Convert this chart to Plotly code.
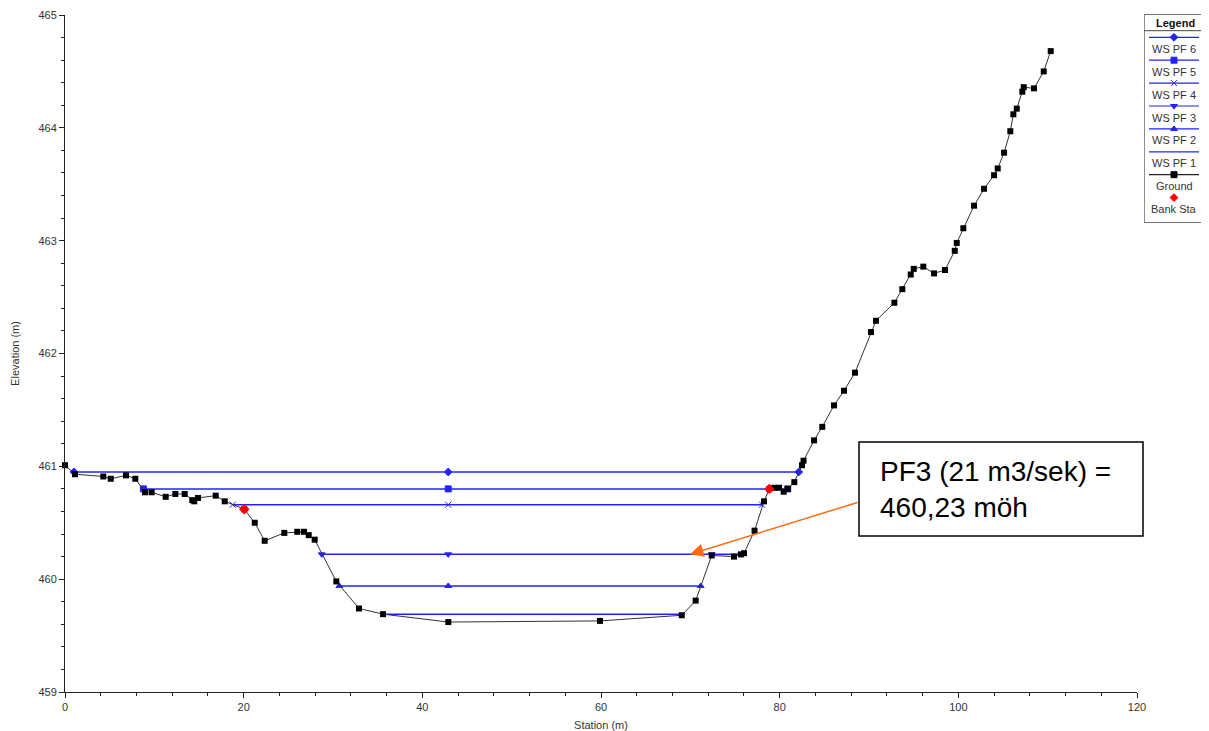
import plotly.graph_objects as go

# ---------------- data ----------------
ground_station = [0.0, 1.12, 4.29, 5.12, 6.83, 7.87, 8.96, 9.70, 11.27, 12.35, 13.40, 14.25, 14.47,
                  14.89, 16.87, 17.88, 20.07, 21.24, 22.35, 24.55, 26.00, 26.75, 27.28, 27.95, 30.37,
                  32.91, 35.60, 42.91, 59.89, 69.04, 70.60, 72.39, 74.89, 75.67, 76.01, 77.19, 78.25,
                  78.84, 79.40, 79.93, 80.45, 80.90, 81.64, 82.50, 82.67, 83.85, 84.77, 86.08, 87.20,
                  88.43, 90.22, 90.78, 92.84, 93.73, 94.67, 95.01, 96.08, 97.28, 98.51, 99.60, 99.82,
                  100.56, 101.76, 102.88, 104.00, 104.41, 105.12, 105.82, 106.16, 106.54, 107.16,
                  107.32, 108.47, 109.56, 110.34]
ground_elev = [461.01, 460.93, 460.91, 460.89, 460.92, 460.89, 460.77, 460.77, 460.73, 460.755, 460.755,
               460.70, 460.69, 460.72, 460.74, 460.69, 460.62, 460.50, 460.34, 460.41, 460.42, 460.42,
               460.39, 460.35, 459.98, 459.74, 459.69, 459.62, 459.63, 459.68, 459.81, 460.21, 460.20,
               460.22, 460.23, 460.43, 460.69, 460.80, 460.81, 460.81, 460.775, 460.80, 460.86, 461.01,
               461.05, 461.23, 461.35, 461.54, 461.67, 461.83, 462.19, 462.29, 462.45, 462.57, 462.70,
               462.75, 462.77, 462.71, 462.74, 462.91, 462.98, 463.11, 463.31, 463.46, 463.58, 463.64,
               463.78, 463.97, 464.12, 464.17, 464.32, 464.36, 464.35, 464.50, 464.68]

bank_station = [20.07, 78.84]
bank_elev = [460.62, 460.80]

ws_names = ["WS PF 6", "WS PF 5", "WS PF 4", "WS PF 3", "WS PF 2", "WS PF 1"]
ws_elev = [460.95, 460.80, 460.66, 460.22, 459.94, 459.69]
ws_station = [
    [1.0, 42.9, 82.13],
    [8.77, 42.9, 80.9],
    [18.77, 42.9, 78.03],
    [28.74, 42.9, 72.39, 75.7],
    [30.71, 42.9, 71.16],
    [35.60, 69.04],
]
ws_symbols = ["diamond", "square", "x-thin-open", "triangle-down", "triangle-up", None]

x_ticks = [0, 20, 40, 60, 80, 100, 120]
y_ticks = [459, 460, 461, 462, 463, 464, 465]

note_text = "PF3 (21 m3/sek) =<br>460,23 möh"
note_tip = (69.97, 460.22)
note_tail = (88.88, 460.684)

# ---------------- style / layout ----------------
# page body has an 8px margin: the figure starts at screen (8, 8)
OFF = 8
W, H = 1209 - OFF, 731 - OFF
PLOT_L, PLOT_R, PLOT_T, PLOT_B = 65, 1137, 15, 692     # screen pixels of the axes
TOP = 10                                                # screen pixel of paper top
ML, MT = PLOT_L - OFF, TOP - OFF
MB = H - (PLOT_B - OFF)
MR = 0
PW, PH = W - ML - MR, H - MT - MB


def px(x):
    return (x - PLOT_L) / PW


def py(y):
    return (PLOT_B - y) / PH


WS_COLOR = "#2222FF"
FONT = "Liberation Sans, Arial, sans-serif"
TXT = "#333333"

fig = go.Figure()

for name, el, st, sym in zip(ws_names, ws_elev, ws_station, ws_symbols):
    fig.add_trace(go.Scatter(
        x=st, y=[el] * len(st), name=name, showlegend=False,
        mode="lines+markers" if sym else "lines",
        line=dict(color=WS_COLOR, width=1.5),
        marker=dict(symbol=sym or "circle", size=6, color=WS_COLOR,
                    line=dict(color=WS_COLOR, width=1)),
        cliponaxis=False,
    ))

fig.add_trace(go.Scatter(
    x=ground_station, y=ground_elev, name="Ground", showlegend=False,
    mode="lines+markers", line=dict(color="#333333", width=1),
    marker=dict(symbol="square", size=6, color="black"), cliponaxis=False,
))
fig.add_trace(go.Scatter(
    x=bank_station, y=bank_elev, name="Bank Sta", showlegend=False,
    mode="markers", marker=dict(symbol="diamond", size=8, color="#FF0000"), cliponaxis=False,
))

# ---------------- custom legend (HEC-RAS style) ----------------
LX0, LX1, LY0, LY1 = 1144, 1207, 14.3, 222.7
leg_x0, leg_x1 = 1149, 1199
leg_mid = (leg_x0 + leg_x1) / 2
line_y0, step = 37.3, 22.9
text_off = 11.6

leg_items = [(n, WS_COLOR, s, True) for n, s in zip(ws_names, ws_symbols)]
leg_items += [("Ground", "black", "square", True), ("Bank Sta", "#FF0000", "diamond", False)]

annots = []
for i, (name, col, sym, has_line) in enumerate(leg_items):
    ly = line_y0 + i * step
    if has_line:
        fig.add_trace(go.Scatter(x=[leg_x0, leg_x1], y=[ly, ly], mode="lines",
                                 line=dict(color=col if col != "black" else "#222222", width=1.2),
                                 xaxis="x2", yaxis="y2", showlegend=False, hoverinfo="skip"))
    if sym:
        fig.add_trace(go.Scatter(x=[leg_mid], y=[ly], mode="markers",
                                 marker=dict(symbol=sym, size=6, color=col, line=dict(color=col, width=1)),
                                 xaxis="x2", yaxis="y2", showlegend=False, hoverinfo="skip",
                                 cliponaxis=False))
    annots.append(dict(x=leg_mid, y=ly + text_off, xref="x2", yref="y2", text=name,
                       showarrow=False, font=dict(family=FONT, size=11, color=TXT),
                       xanchor="center", yanchor="middle"))

annots.append(dict(x=(LX0 + LX1) / 2, y=23, xref="x2", yref="y2", text="<b>Legend</b>",
                   showarrow=False, font=dict(family=FONT, size=11, color="#111111"),
                   xanchor="center", yanchor="middle"))

# callout
annots.append(dict(x=note_tip[0], y=note_tip[1], ax=note_tail[0], ay=note_tail[1],
                   xref="x", yref="y", axref="x", ayref="y", text="", showarrow=True,
                   arrowhead=2, arrowsize=1.8, arrowwidth=1.5, arrowcolor="#FF6A13", standoff=0))
annots.append(dict(x=px(878), y=py(489), xref="paper", yref="paper", text=note_text,
                   showarrow=False, align="left", xanchor="left", yanchor="middle",
                   font=dict(family=FONT, size=28, color="black")))

shapes = [
    dict(type="rect", xref="x2", yref="y2", x0=LX0, x1=LX1, y0=LY0, y1=LY1,
         line=dict(color="#444444", width=1.2), fillcolor="rgba(0,0,0,0)", layer="below"),
    dict(type="line", xref="x2", yref="y2", x0=LX0, x1=LX1, y0=30.7, y1=30.7,
         line=dict(color="#444444", width=1)),
    dict(type="rect", xref="paper", yref="paper", x0=px(859), x1=px(1143), y0=py(536), y1=py(442),
         line=dict(color="black", width=1.5), fillcolor="white"),
]

fig.update_layout(
    width=W, height=H, margin=dict(l=ML, r=MR, t=MT, b=MB, autoexpand=False),
    paper_bgcolor="white", plot_bgcolor="white",
    font=dict(family=FONT, size=11, color=TXT),
    xaxis=dict(domain=[0, (PLOT_R - PLOT_L) / PW], range=[0, 120], tickvals=x_ticks,
               ticks="outside", ticklen=5, tickcolor="#222222",
               minor=dict(dtick=4, ticks="outside", ticklen=3, tickcolor="#222222"),
               showline=True, linecolor="#222222", linewidth=1, showgrid=False, zeroline=False,
               tickfont=dict(size=11, color=TXT),
               title=dict(text="Station (m)", font=dict(size=11, color=TXT), standoff=9),
               automargin=False, anchor="y"),
    yaxis=dict(domain=[0, py(PLOT_T)], range=[459, 465], tickvals=y_ticks,
               ticks="outside", ticklen=5, tickcolor="#222222",
               minor=dict(dtick=0.2, ticks="outside", ticklen=3, tickcolor="#222222"),
               showline=True, linecolor="#222222", linewidth=1, showgrid=False, zeroline=False,
               tickfont=dict(size=11, color=TXT),
               title=dict(text="Elevation (m)", font=dict(size=11, color=TXT), standoff=16),
               automargin=False, anchor="x"),
    xaxis2=dict(domain=[px(LX0), min(px(LX1), 1.0)], range=[LX0, LX1], visible=False,
                anchor="y2", fixedrange=True),
    yaxis2=dict(domain=[py(LY1), py(LY0)], range=[LY1, LY0], visible=False,
                anchor="x2", fixedrange=True),
    annotations=annots, shapes=shapes, showlegend=False,
)

fig.write_html("out.html")
